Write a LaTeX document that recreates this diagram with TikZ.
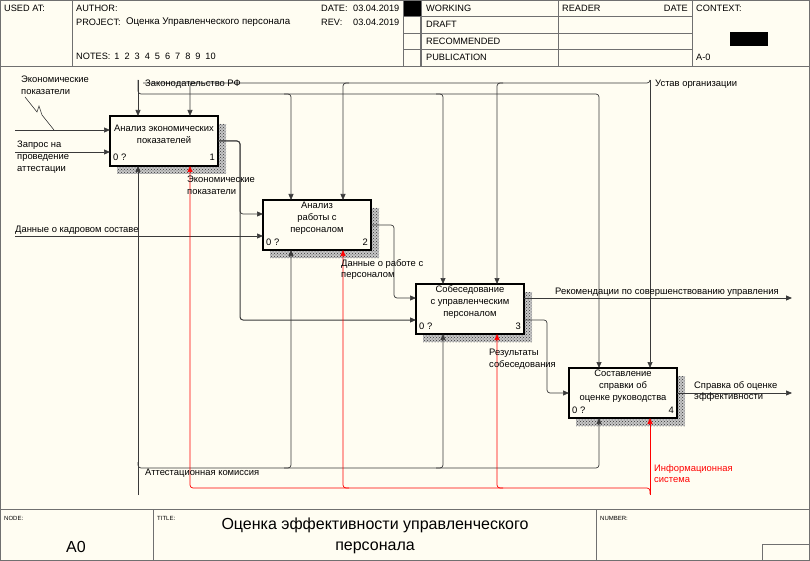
\documentclass[tikz,border=0pt]{standalone}
\usepackage{fontspec}
\setmainfont{Liberation Sans}
\usetikzlibrary{arrows.meta,patterns}
\definecolor{bg}{HTML}{FFFDF2}
\definecolor{ln}{HTML}{3A3A3A}
\definecolor{frm}{HTML}{707070}
\definecolor{rd}{HTML}{FF0000}
\begin{document}
\begin{tikzpicture}[x=1pt,y=-1pt,
  fbox/.style={draw=black,line width=1.3pt,fill=bg,minimum width=108pt,minimum height=50pt,inner sep=0pt},
  shd/.style={pattern=crosshatch dots,pattern color=black!80},
  btxt/.style={font=\fontsize{9.4}{11.8}\selectfont,align=center,inner sep=0pt},
  lbl/.style={font=\fontsize{9.4}{11.8}\selectfont,align=left,inner sep=0pt,anchor=north west},
  one/.style={font=\fontsize{9.4}{11}\selectfont,inner sep=0pt,anchor=west},
  hd/.style={font=\fontsize{9.2}{10}\selectfont,inner sep=0pt,anchor=west},
  tiny/.style={font=\fontsize{6}{7}\selectfont,inner sep=0pt,anchor=west},
  conn/.style={draw=ln,line width=0.7pt,rounded corners=3pt},
  rconn/.style={draw=rd,line width=0.7pt,rounded corners=3pt},
  arr/.style={-{Triangle[length=6pt,width=5pt]}},
  hl/.style={draw=frm,line width=0.8pt},
]
\fill[bg] (0,0) rectangle (810,561);
\useasboundingbox (0,0) rectangle (810,561);

% ---------- header ----------
\draw[hl] (0.5,0.5) rectangle (809.5,560.5);
\draw[hl] (0,66) -- (810,66);
\draw[hl] (72,0) -- (72,66);
\draw[hl] (403,0) -- (403,66);
\draw[hl,line width=1.2pt] (421,0) -- (421,66);
\draw[hl] (558,0) -- (558,66);
\draw[hl] (692,0) -- (692,66);
\draw[hl] (403,16.5) -- (692,16.5);
\draw[hl] (403,33) -- (692,33);
\draw[hl] (403,49.5) -- (692,49.5);
\fill[black] (404,1) rectangle (421,16);
\fill[black] (730,32) rectangle (768,46);

\node[hd] (usedat) at (4,8) {USED AT:};
\node[hd] (author) at (76,8) {AUTHOR:};
\node[hd] (project) at (76,22) {PROJECT:};
\node[hd,font=\fontsize{9.7}{10}\selectfont] (projname) at (126,22) {Оценка Управленческого персонала};
\node[hd] (date) at (321,8) {DATE:};
\node[hd] (dateval) at (353,8) {03.04.2019};
\node[hd] (rev) at (321,22) {REV:};
\node[hd] (revval) at (353,22) {03.04.2019};
\node[hd] (notes) at (76,56) {NOTES:\hspace{4pt}1\hspace{5pt}2\hspace{5pt}3\hspace{5pt}4\hspace{5pt}5\hspace{5pt}6\hspace{5pt}7\hspace{5pt}8\hspace{5pt}9\hspace{5pt}10};
\node[hd] (working) at (426,8) {WORKING};
\node[hd] (draft) at (426,24.5) {DRAFT};
\node[hd] (recom) at (426,41) {RECOMMENDED};
\node[hd] (publ) at (426,57.5) {PUBLICATION};
\node[hd] (reader) at (562,8) {READER};
\node[hd,anchor=east] (rdate) at (688,8) {DATE};
\node[hd] (context) at (696,8) {CONTEXT:};
\node[hd] (am0) at (696,57) {A-0};

% ---------- footer ----------
\draw[hl] (0,509) -- (810,509);
\draw[hl] (153,509) -- (153,561);
\draw[hl] (596,509) -- (596,561);
\draw[hl] (762,561) |- (810,544);
\node[tiny] (nodelbl) at (4,518) {NODE:};
\node[tiny] (titlelbl) at (157,518) {TITLE:};
\node[tiny] (numlbl) at (600,518) {NUMBER:};
\node[font=\fontsize{16}{20}\selectfont,inner sep=0pt] (a0) at (76,547) {A0};
\node[font=\fontsize{16}{20.5}\selectfont,align=center,inner sep=0pt] (title) at (375,536) {Оценка эффективности управленческого\\персонала};

% ---------- shadows ----------
\fill[black!22] (117,124) rectangle (226,174);
\fill[black!22] (270,208) rectangle (379,258);
\fill[black!22] (423,292) rectangle (532,342);
\fill[black!22] (576,376) rectangle (685,426);
\fill[shd] (117,124) rectangle (226,174);
\fill[shd] (270,208) rectangle (379,258);
\fill[shd] (423,292) rectangle (532,342);
\fill[shd] (576,376) rectangle (685,426);

% ---------- boxes ----------
\node[fbox] (b1) at (164,141) {};
\node[fbox] (b2) at (317,225) {};
\node[fbox] (b3) at (470,309) {};
\node[fbox] (b4) at (623,393) {};
\node[btxt] (b1t) at (164,134) {Анализ экономических\\показателей};
\node[btxt] (b2t) at (317,218) {Анализ\\работы с\\персоналом};
\node[btxt] (b3t) at (470,302) {Собеседование\\с управленческим\\персоналом};
\node[btxt] (b4t) at (623,386) {Составление\\справки об\\оценке руководства};
\node[btxt,anchor=base west] (b1z) at (113,161) {0 ?};
\node[btxt,anchor=base east] (b1n) at (215,161) {1};
\node[btxt,anchor=base west] (b2z) at (266,245) {0 ?};
\node[btxt,anchor=base east] (b2n) at (368,245) {2};
\node[btxt,anchor=base west] (b3z) at (419,329) {0 ?};
\node[btxt,anchor=base east] (b3n) at (521,329) {3};
\node[btxt,anchor=base west] (b4z) at (572,413) {0 ?};
\node[btxt,anchor=base east] (b4n) at (674,413) {4};

% ---------- ports ----------
\coordinate (e1) at (15,130);   \coordinate (b1i1) at (110,130);
\coordinate (e2) at (15,152);   \coordinate (b1i2) at (110,152);
\coordinate (e3) at (15,236);   \coordinate (b2i2) at (263,236);
\coordinate (b1o) at (218,141); \coordinate (b2i1) at (263,214);
\coordinate (b3i2) at (416,320);
\coordinate (b2o) at (371,225); \coordinate (b3i1) at (416,298);
\coordinate (b3o1) at (524,298); \coordinate (x1) at (792,298);
\coordinate (b3o2) at (524,320); \coordinate (b4i) at (569,393);
\coordinate (b4o) at (677,393); \coordinate (x2) at (792,393);
\coordinate (t1) at (138,80);   \coordinate (b1c1) at (138,116);
\coordinate (b2c1) at (291,200); \coordinate (b3c1) at (443,284); \coordinate (b4c1) at (599,368);
\coordinate (t2) at (650,80);   \coordinate (b4c2) at (650,368);
\coordinate (b1c2) at (190,116); \coordinate (b2c2) at (343,200); \coordinate (b3c2) at (497,284);
\coordinate (m1) at (138,495);  \coordinate (b1m1) at (138,166);
\coordinate (b2m1) at (291,250); \coordinate (b3m1) at (443,334); \coordinate (b4m1) at (599,418);
\coordinate (m2) at (650,495);  \coordinate (b4m2) at (650,418);
\coordinate (b1m2) at (190,166); \coordinate (b2m2) at (343,250); \coordinate (b3m2) at (497,334);

% ---------- inputs / outputs ----------
\draw[conn,arr] (e1) -- (b1i1);
\draw[conn,arr] (e2) -- (b1i2);
\draw[conn,arr] (e3) -- (b2i2);
\draw[conn,arr] (b1o) -- ++(22,0) |- (b2i1);
\draw[conn,arr,line width=1pt] (b1o) -- ++(22,0) |- (b3i2);
\draw[conn,arr] (b2o) -- ++(23,0) |- (b3i1);
\draw[conn,arr,line width=1pt] (b3o1) -- (x1);
\draw[conn,arr] (b3o2) -- ++(23,0) |- (b4i);
\draw[conn,arr] (b4o) -- (x2);
\draw[ln,line width=0.6pt] (25,97) -- (37,112) -- (39,106) -- (42,115) -- (54,130);

% ---------- controls ----------
\draw[conn,arr] (t1) -- (b1c1);
\draw[conn,arr] (t1) -- (138,94) -| (b4c1);
\draw[conn,arr] (284,94) -| (b2c1);
\draw[conn,arr] (436,94) -| (b3c1);
\draw[conn,arr] (t2) -- (b4c2);
\draw[conn] (t2) |- (143,83);
\draw[conn,arr] (196,83) -| (b1c2);
\draw[conn,arr] (349,83) -| (b2c2);
\draw[conn,arr] (503,83) -| (b3c2);

% ---------- mechanisms ----------
\draw[conn,arr] (m1) -- (b1m1);
\draw[conn,arr] (138,462) |- (599,468) -- (b4m1);
\draw[conn,arr] (284,468) -| (b2m1);
\draw[conn,arr] (436,468) -| (b3m1);
\draw[rconn,arr] (m2) -- (b4m2);
\draw[rconn,arr] (650,494) |- (190,488) -- (b1m2);
\draw[rconn,arr] (349,488) -| (b2m2);
\draw[rconn,arr] (503,488) -| (b3m2);

% ---------- labels ----------
\node[lbl] (l1) at (21,76) {Экономические\\показатели};
\node[lbl] (l2) at (17,141) {Запрос на\\проведение\\аттестации};
\node[one] (l3) at (15,230) {Данные о кадровом составе};
\node[lbl] (l4) at (187,176) {Экономические\\показатели};
\node[lbl] (l5) at (341,259) {Данные о работе с\\персоналом};
\node[one] (l6) at (555,292) {Рекомендации по совершенствованию управления};
\node[lbl] (l7) at (489,349) {Результаты\\собеседования};
\node[lbl] (l8) at (694,381) {Справка об оценке\\эффективности};
\node[one] (l9) at (145,84) {Законодательство РФ};
\node[one] (l10) at (655,84) {Устав организации};
\node[one] (l11) at (145,473) {Аттестационная комиссия};
\node[lbl,text=rd] (l12) at (654,464) {Информационная\\система};
\end{tikzpicture}
\end{document}
